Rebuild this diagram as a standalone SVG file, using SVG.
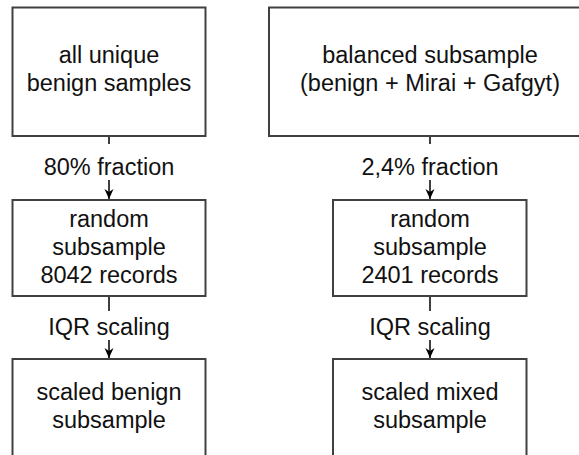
<svg xmlns="http://www.w3.org/2000/svg" width="579" height="455" viewBox="0 0 579 455">
<defs>
<style>
.box{fill:#fff;stroke:#404040;stroke-width:2}
.t{font-family:"Liberation Sans",Arial,sans-serif;font-size:23.5px;fill:#111;text-anchor:middle}
.c{stroke:#404040;stroke-width:2;fill:none}
</style>
<marker id="arr" viewBox="0 0 10 10" refX="10" refY="5" markerWidth="10" markerHeight="10" orient="auto" markerUnits="userSpaceOnUse">
<path d="M0,0.5 L10,5 L0,9.5 L3,5 Z" fill="#000"/>
</marker>
</defs>
<rect width="579" height="455" fill="#fff"/>
<g id="n1"><rect class="box" x="12.5" y="7.5" width="193" height="128.5"/><text class="t" x="109" y="63">all unique</text><text class="t" x="109" y="91">benign samples</text></g>
<g id="n2"><rect class="box" x="269" y="7.5" width="330" height="128.5"/><text class="t" x="430" y="63">balanced subsample</text><text class="t" x="430" y="91">(benign + Mirai + Gafgyt)</text></g>
<g id="n3"><rect class="box" x="12.5" y="200" width="193" height="96"/><text class="t" x="109" y="227">random</text><text class="t" x="109" y="255">subsample</text><text class="t" x="109" y="283">8042 records</text></g>
<g id="n4"><rect class="box" x="333" y="200" width="193.5" height="96"/><text class="t" x="430" y="227">random</text><text class="t" x="430" y="255">subsample</text><text class="t" x="430" y="283">2401 records</text></g>
<g id="n5"><rect class="box" x="12.5" y="359" width="193" height="120"/><text class="t" x="109" y="400">scaled benign</text><text class="t" x="109" y="428">subsample</text></g>
<g id="n6"><rect class="box" x="333" y="359" width="193.5" height="120"/><text class="t" x="430" y="400">scaled mixed</text><text class="t" x="430" y="428">subsample</text></g>
<g id="connectors">
<path class="c" d="M109,136 V144"/><path class="c" d="M109,180 V199" marker-end="url(#arr)"/>
<text class="t" x="109" y="175">80% fraction</text>
<path class="c" d="M430,136 V144"/><path class="c" d="M430,180 V199" marker-end="url(#arr)"/>
<text class="t" x="430" y="175">2,4% fraction</text>
<path class="c" d="M109,296 V311"/><path class="c" d="M109,340 V358" marker-end="url(#arr)"/>
<text class="t" x="109" y="335">IQR scaling</text>
<path class="c" d="M430,296 V311"/><path class="c" d="M430,340 V358" marker-end="url(#arr)"/>
<text class="t" x="430" y="335">IQR scaling</text>
</g>
</svg>
